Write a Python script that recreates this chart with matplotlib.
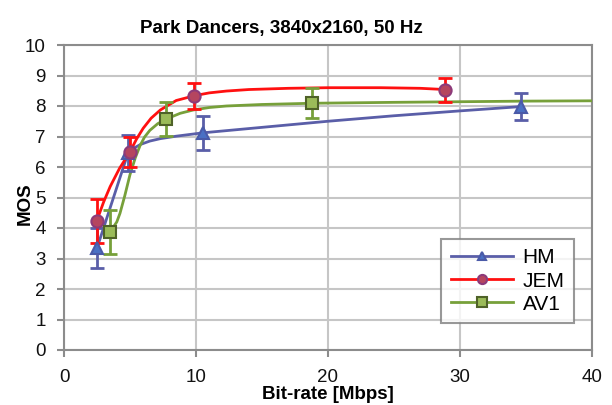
import matplotlib
matplotlib.use("Agg")
import matplotlib.pyplot as plt

# Measured points (bit-rate in Mbps, MOS, 95% CI half-width)
hm_x = [2.5, 4.85, 10.5, 34.6]
hm_y = [3.34, 6.46, 7.12, 7.98]
hm_err = [0.65, 0.6, 0.55, 0.43]

jem_x = [2.48, 5.0, 9.87, 28.86]
jem_y = [4.23, 6.5, 8.34, 8.52]
jem_err = [0.73, 0.5, 0.43, 0.4]

av1_x = [3.48, 7.73, 18.8]
av1_y = [3.86, 7.57, 8.09]
av1_err = [0.72, 0.56, 0.49]

# Fitted curves
hm_fit_x = [2.5, 4.85, 5.3, 5.8, 6.5, 7.3, 8.5, 10.5, 15, 20, 25, 30, 34.6]
hm_fit_y = [3.34, 6.46, 6.62, 6.74, 6.85, 6.93, 7.01, 7.12, 7.3, 7.5, 7.68, 7.84, 7.98]

jem_fit_x = [2.48, 3.0, 3.5, 4.2, 5.0, 5.5, 6.0, 6.6, 7.3, 8.5, 9.9, 11.0, 12.3, 14.0, 17.0, 20.0, 24.0, 27.0, 28.86]
jem_fit_y = [4.23, 4.85, 5.36, 5.95, 6.5, 6.92, 7.27, 7.6, 7.87, 8.18, 8.34, 8.43, 8.49, 8.54, 8.58, 8.6, 8.6, 8.58, 8.54]

av1_fit_x = [3.48, 4.0, 4.24, 4.6, 5.0, 5.4, 5.76, 6.1, 6.5, 7.1, 7.73, 8.8, 9.8, 11.0, 12.3, 15.0, 18.8, 25.0, 30.0, 35.0, 40.0]
av1_fit_y = [3.86, 4.2, 4.48, 5.05, 5.75, 6.3, 6.7, 6.98, 7.2, 7.42, 7.57, 7.76, 7.87, 7.95, 8.0, 8.05, 8.09, 8.12, 8.14, 8.16, 8.17]

x_ticks = [0, 10, 20, 30, 40]
y_ticks = list(range(0, 11))

title = "Park Dancers, 3840x2160, 50 Hz"
xlabel = "Bit-rate [Mbps]"
ylabel = "MOS"

plt.rcParams['font.family'] = ['Liberation Sans', 'DejaVu Sans']

fig = plt.figure(figsize=(6.12, 4.05), dpi=100)
ax = fig.add_axes([64/612, 55/405, 528/612, 305/405])

grid_c = '#c6c6c6'
spine_c = '#8c8c8c'

series = [
    ("HM", hm_x, hm_y, hm_err, hm_fit_x, hm_fit_y, '#5a5ea8', '^', '#4a70c4', '#4a5aa8', 8.5),
    ("JEM", jem_x, jem_y, jem_err, jem_fit_x, jem_fit_y, '#ff1010', 'o', '#b5455f', '#8c3a7a', 8.8),
    ("AV1", av1_x, av1_y, av1_err, av1_fit_x, av1_fit_y, '#77a03a', 's', '#9bbb59', '#4f6228', 8.8),
]

handles = []
for name, x, y, e, fx, fy, lc, mk, mfc, mec, ms in series:
    ax.plot(fx, fy, color=lc, lw=2, zorder=3)
    ax.errorbar(x, y, yerr=e, fmt='none', ecolor=lc, elinewidth=2, capsize=5, capthick=2, zorder=4)
    ax.plot(x, y, ls='none', marker=mk, ms=ms, mfc=mfc, mec=mec, mew=1.5, zorder=5)
    h, = ax.plot([], [], color=lc, lw=2, marker=mk, ms=ms*0.75, mfc=mfc, mec=mec, mew=1.5, label=name)
    handles.append(h)

ax.set_xlim(0, 40)
ax.set_ylim(0, 10)
ax.set_xticks(x_ticks)
ax.set_yticks(y_ticks)
ax.grid(True, color=grid_c, lw=1.5, zorder=0)
ax.set_axisbelow(True)
for s in ax.spines.values():
    s.set_color(spine_c)
    s.set_linewidth(1.5)
ax.tick_params(axis='both', colors=spine_c, labelcolor='#111111', labelsize=13.5,
               direction='out', length=5, width=1.5)
ax.tick_params(axis='x', pad=9)
ax.tick_params(axis='y', pad=8)

ax.set_title(title, fontsize=13.5, fontweight='bold', x=(281-64)/528, y=1.0, pad=9)
ax.set_xlabel(xlabel, fontsize=13.5, fontweight='bold', labelpad=0)
ax.set_ylabel(ylabel, fontsize=13.5, fontweight='bold')
ax.yaxis.set_label_coords((34-64)/528, 0.48)

leg = ax.legend(handles=handles, loc='lower right', bbox_to_anchor=(0.966, 0.088),
                borderaxespad=0, fontsize=15, frameon=True, fancybox=False, edgecolor='#7f7f7f',
                handlelength=3.0, handletextpad=0.45, borderpad=0.45, labelspacing=0.2)
leg.get_frame().set_linewidth(1.5)

fig.savefig("out.png", dpi=100)
